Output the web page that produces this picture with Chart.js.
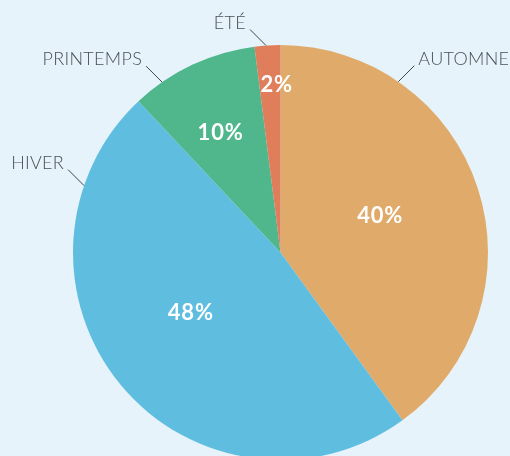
<!DOCTYPE html>
<html>
<head>
<meta charset="utf-8">
<script src="https://cdn.jsdelivr.net/npm/chart.js@4"></script>
<style>
  html, body { margin: 0; padding: 0; background: #E6F3FB; overflow: hidden; }
  #wrap { width: 510px; height: 456px; overflow: hidden; position: relative; }
  canvas { display: block; }
</style>
</head>
<body>
<div id="wrap"><canvas id="c" width="510" height="470"></canvas></div>
<script>
const categories = ['AUTOMNE', 'HIVER', 'PRINTEMPS', 'ÉTÉ'];
const values = [40, 48, 10, 2];
const valueLabels = ['40%', '48%', '10%', '2%'];
const colors = ['#E0AB6A', '#5FBEE0', '#50B78D', '#E07D5B'];

const labelPlugin = {
  id: 'sliceLabels',
  afterDatasetsDraw(chart, args, opts) {
    const ctx = chart.ctx;
    const meta = chart.getDatasetMeta(0);
    const toRad = d => (d - 90) * Math.PI / 180;
    meta.data.forEach((arc, i) => {
      const p = arc.getProps(['x', 'y', 'outerRadius'], true);
      // inner percentage labels
      const ia = toRad(opts.innerAngles[i]);
      const ir = p.outerRadius * opts.innerFractions[i];
      ctx.save();
      ctx.fillStyle = '#FFFFFF';
      ctx.font = opts.innerFont;
      if ('letterSpacing' in ctx) ctx.letterSpacing = opts.innerSpacing;
      ctx.textAlign = 'center';
      ctx.textBaseline = 'middle';
      ctx.fillText(valueLabels[i], p.x + ir * Math.cos(ia), p.y + ir * Math.sin(ia));
      ctx.restore();
      // outer category labels with leader lines
      const oa = toRad(opts.outerAngles[i]);
      const sx = p.x + p.outerRadius * Math.cos(oa);
      const sy = p.y + p.outerRadius * Math.sin(oa);
      const dir = Math.cos(oa) >= 0 ? 1 : -1;
      const ex = sx + dir * opts.leader;
      const ey = sy - opts.leader;
      ctx.save();
      ctx.strokeStyle = '#3f454b';
      ctx.lineWidth = 1;
      ctx.beginPath();
      ctx.moveTo(sx, sy);
      ctx.lineTo(ex, ey);
      ctx.stroke();
      ctx.fillStyle = '#4a4f55';
      ctx.font = opts.outerFont;
      if ('letterSpacing' in ctx) ctx.letterSpacing = opts.outerSpacing;
      ctx.textAlign = dir > 0 ? 'left' : 'right';
      ctx.textBaseline = 'middle';
      ctx.fillText(categories[i], ex + dir * 4, ey - 6.5);
      ctx.restore();
    });
  }
};

new Chart(document.getElementById('c'), {
  type: 'pie',
  data: {
    labels: categories,
    datasets: [{
      data: values,
      backgroundColor: colors,
      borderWidth: 0
    }]
  },
  options: {
    responsive: false,
    animation: false,
    layout: { padding: { left: 73, right: 22, top: 45, bottom: 10 } },
    plugins: {
      legend: { display: false },
      tooltip: { enabled: false },
      sliceLabels: {
        innerAngles: [69.8, 236.1, 333.3, 358.7],
        innerFractions: [0.512, 0.521, 0.643, 0.807],
        outerAngles: [34.6, -71.2, -34.8, -4],
        leader: 16,
        innerFont: '700 22px Lato',
        innerSpacing: '0.8px',
        outerFont: '300 18px Lato',
        outerSpacing: '0.3px'
      }
    }
  },
  plugins: [labelPlugin]
});
</script>
</body>
</html>
